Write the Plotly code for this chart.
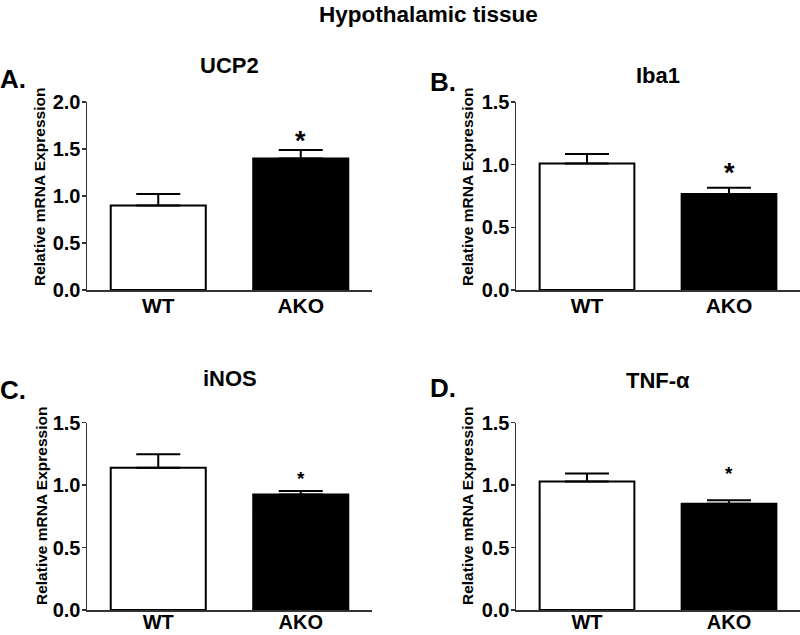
import plotly.graph_objects as go

# ---- data ----
genes = ["UCP2", "Iba1", "iNOS", "TNF-α"]
panel_letters = ["A.", "B.", "C.", "D."]
groups = ["WT", "AKO"]
wt_mean = [0.90, 1.01, 1.14, 1.03]
wt_sem = [0.12, 0.075, 0.107, 0.064]
ako_mean = [1.40, 0.765, 0.925, 0.85]
ako_sem = [0.09, 0.05, 0.028, 0.028]
y_max = [2.0, 1.5, 1.5, 1.5]
y_ticks = [[0.0, 0.5, 1.0, 1.5, 2.0], [0.0, 0.5, 1.0, 1.5], [0.0, 0.5, 1.0, 1.5], [0.0, 0.5, 1.0, 1.5]]
main_title = "Hypothalamic tissue"
y_title = "Relative mRNA Expression"

W, H = 800, 635
FONT = "Liberation Sans, Arial, sans-serif"

def px_x(x):
    return x / W

def px_y(y):
    return 1 - y / H

# layout geometry (pixels)
x_dom = [(87, 372), (516, 800), (87, 372), (516, 800)]
y_dom = [(102, 290), (102, 290), (422.7, 610), (422.7, 610)]
ytitle_pos = [(39, 187), (467, 187), (41, 506), (467, 506)]
letter_pos = [(13, 79), (443, 82), (13, 390), (443, 388)]
sub_pos = [(230, 66), (658, 75), (230, 378), (658, 380)]
star_size = [27, 27, 19, 19]
star_shift = [10, 16, 18, 32]
xlab_standoff = [-4, -4, -7, -7]
xlab_size = [21, 21, 20, 20]

fig = go.Figure()
annotations = []
layout_axes = {}

for i in range(4):
    n = "" if i == 0 else str(i + 1)
    fig.add_trace(go.Bar(
        x=groups,
        y=[wt_mean[i], ako_mean[i]],
        xaxis="x" + n, yaxis="y" + n,
        width=0.667,
        marker=dict(color=["white", "black"], line=dict(color="black", width=2)),
        error_y=dict(type="data", symmetric=False,
                     array=[wt_sem[i], ako_sem[i]], arrayminus=[0, 0],
                     color="black", thickness=2, width=22),
        showlegend=False,
        hoverinfo="skip",
    ))
    layout_axes["xaxis" + n] = dict(
        domain=[px_x(x_dom[i][0]), px_x(x_dom[i][1])],
        anchor="y" + n,
        range=[-0.5, 1.5],
        automargin=False,
        showline=True, linecolor="#333", linewidth=1.5,
        ticks="", showgrid=False, zeroline=False,
        ticklabelstandoff=xlab_standoff[i],
        tickfont=dict(family=FONT, size=xlab_size[i], color="black", weight="bold"),
        fixedrange=True,
    )
    layout_axes["yaxis" + n] = dict(
        domain=[px_y(y_dom[i][1]), px_y(y_dom[i][0])],
        anchor="x" + n,
        range=[0, y_max[i]],
        automargin=False,
        tickvals=y_ticks[i],
        ticktext=["%.1f" % v for v in y_ticks[i]],
        showline=True, linecolor="#333", linewidth=1.5,
        ticks="outside", ticklen=4, tickwidth=1.5, tickcolor="#333",
        ticklabelstandoff=-3,
        showgrid=False, zeroline=False,
        tickfont=dict(family=FONT, size=20, color="black", weight="bold"),
        fixedrange=True,
    )
    annotations.append(dict(
        text="<b>%s</b>" % y_title, textangle=-90,
        x=px_x(ytitle_pos[i][0]), y=px_y(ytitle_pos[i][1]),
        xref="paper", yref="paper", xanchor="center", yanchor="middle",
        showarrow=False, font=dict(family=FONT, size=15.5, color="black"),
    ))
    annotations.append(dict(
        text="<b>%s</b>" % panel_letters[i],
        x=px_x(letter_pos[i][0]), y=px_y(letter_pos[i][1]),
        xref="paper", yref="paper", xanchor="center", yanchor="middle",
        showarrow=False, font=dict(family=FONT, size=26, color="black"),
    ))
    annotations.append(dict(
        text="<b>%s</b>" % genes[i],
        x=px_x(sub_pos[i][0]), y=px_y(sub_pos[i][1]),
        xref="paper", yref="paper", xanchor="center", yanchor="middle",
        showarrow=False, font=dict(family=FONT, size=22, color="black"),
    ))
    annotations.append(dict(
        text="<b>*</b>",
        x="AKO", y=ako_mean[i] + ako_sem[i],
        xref="x" + n, yref="y" + n, xanchor="center", yanchor="bottom",
        yshift=star_shift[i] - 18,
        showarrow=False, font=dict(family=FONT, size=star_size[i], color="black"),
    ))

annotations.append(dict(
    text="<b>%s</b>" % main_title,
    x=px_x(428), y=1.0, xref="paper", yref="paper",
    xanchor="center", yanchor="top", showarrow=False,
    font=dict(family=FONT, size=22.5, color="black"),
))

fig.update_layout(
    template="none",
    width=W, height=H,
    margin=dict(l=0, r=0, t=0, b=0),
    paper_bgcolor="white", plot_bgcolor="white",
    annotations=annotations,
    bargap=0.33,
    **layout_axes,
)

fig.write_html(
    "out.html",
    config={"displayModeBar": False, "staticPlot": True},
    post_script="document.body.style.margin='0';document.body.style.overflow='hidden';",
)
